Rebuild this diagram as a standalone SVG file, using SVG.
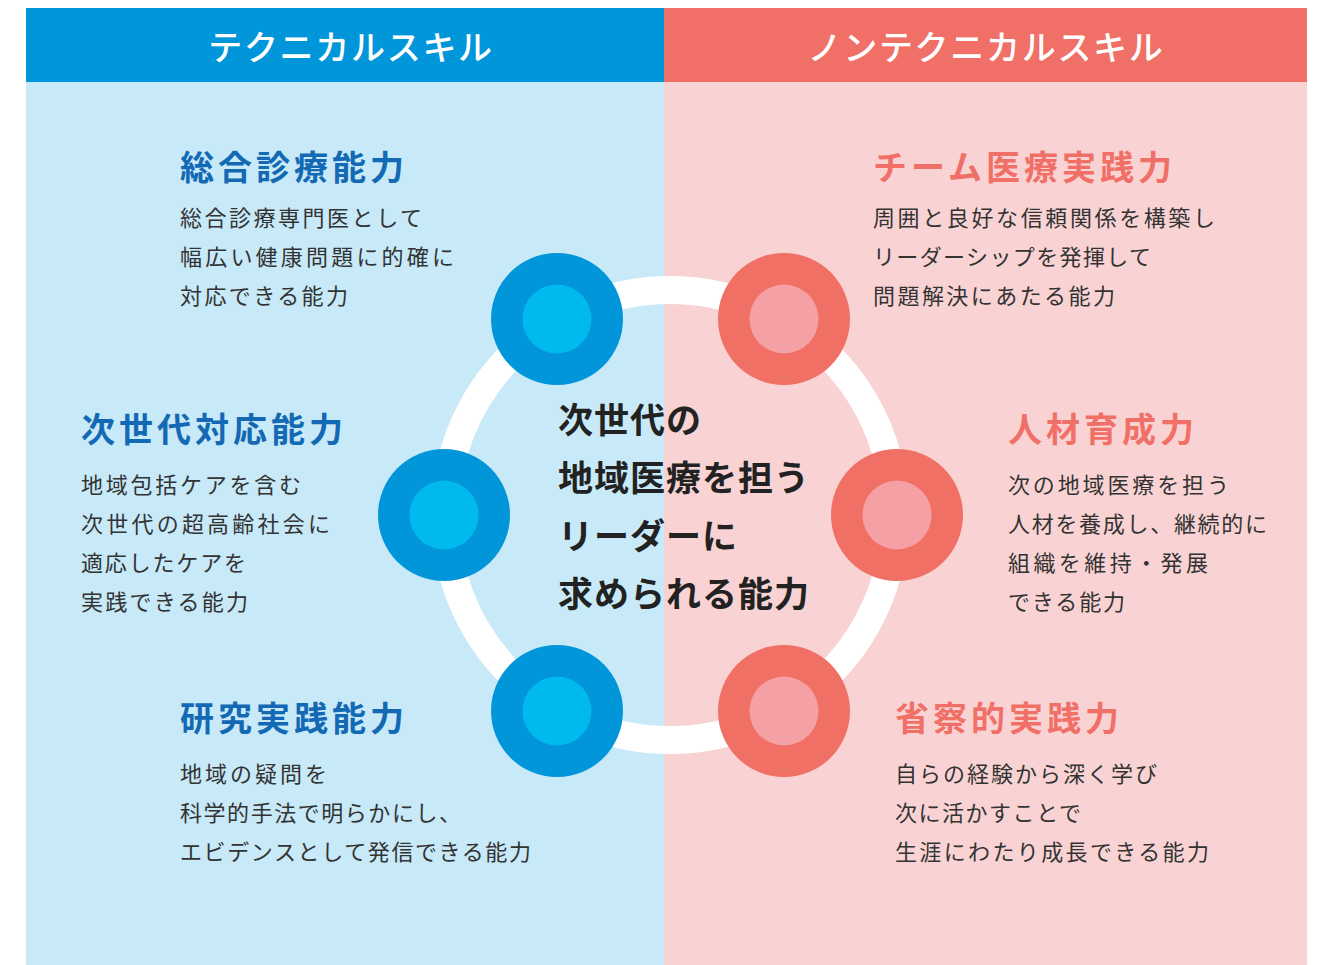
<svg xmlns="http://www.w3.org/2000/svg" width="1321" height="965" viewBox="0 0 1321 965">
<style>
.hd{font-family:"Noto Sans CJK JP","Noto Sans",sans-serif;font-size:34px;font-weight:500;fill:#fff;letter-spacing:1.7px;text-anchor:middle}
.tb{font-family:"Noto Sans CJK JP","Noto Sans",sans-serif;font-size:34px;font-weight:700;fill:#1469B4;letter-spacing:4px}
.tr{font-family:"Noto Sans CJK JP","Noto Sans",sans-serif;font-size:34px;font-weight:700;fill:#F07068;letter-spacing:4px}
.bd{font-family:"Noto Sans CJK JP","Noto Sans",sans-serif;font-size:22px;font-weight:400;fill:#333}
.ct{font-family:"Noto Sans CJK JP","Noto Sans",sans-serif;font-size:35px;font-weight:700;fill:#222;letter-spacing:1px}
.ob{fill:#0096D9}.ib{fill:#00B9EF}.or{fill:#F07066}.ir{fill:#F5A0A4}
</style>
<rect width="1321" height="965" fill="#fff"/>
<g id="panels">
<rect x="26" y="82" width="638" height="883" fill="#C7E9F8"/>
<rect x="664" y="82" width="643" height="883" fill="#F9D3D3"/>
<rect x="26" y="8" width="638" height="74" fill="#0096D9"/>
<rect x="664" y="8" width="643" height="74" fill="#F07068"/>
<text class="hd" x="351" y="60">テクニカルスキル</text>
<text class="hd" x="986" y="60">ノンテクニカルスキル</text>
</g>
<g id="connectors">
<circle cx="670" cy="515" r="225" fill="none" stroke="#fff" stroke-width="28"/>
</g>
<g id="center">
<text class="ct" x="558" y="433">次世代の</text>
<text class="ct" x="558" y="491">地域医療を担う</text>
<text class="ct" x="558" y="549">リーダーに</text>
<text class="ct" x="558" y="607">求められる能力</text>
</g>
<g id="node-sogo">
<circle class="ob" cx="557" cy="319" r="66"/><circle class="ib" cx="557" cy="319" r="34.5"/>
<text class="tb" x="180" y="180">総合診療能力</text>
<text class="bd" x="180" y="226" textLength="242" lengthAdjust="spacing">総合診療専門医として</text>
<text class="bd" x="180" y="265" textLength="274" lengthAdjust="spacing">幅広い健康問題に的確に</text>
<text class="bd" x="180" y="304" textLength="168" lengthAdjust="spacing">対応できる能力</text>
</g>
<g id="node-jisedai">
<circle class="ob" cx="444" cy="515" r="66"/><circle class="ib" cx="444" cy="515" r="34.5"/>
<text class="tb" x="81" y="442">次世代対応能力</text>
<text class="bd" x="81" y="493" textLength="220" lengthAdjust="spacing">地域包括ケアを含む</text>
<text class="bd" x="81" y="532" textLength="249" lengthAdjust="spacing">次世代の超高齢社会に</text>
<text class="bd" x="81" y="571" textLength="165" lengthAdjust="spacing">適応したケアを</text>
<text class="bd" x="81" y="610" textLength="167" lengthAdjust="spacing">実践できる能力</text>
</g>
<g id="node-kenkyu">
<circle class="ob" cx="557" cy="711" r="66"/><circle class="ib" cx="557" cy="711" r="34.5"/>
<text class="tb" x="180" y="731">研究実践能力</text>
<text class="bd" x="180" y="782" textLength="147" lengthAdjust="spacing">地域の疑問を</text>
<text class="bd" x="180" y="821" textLength="281" lengthAdjust="spacing">科学的手法で明らかにし、</text>
<text class="bd" x="180" y="860" textLength="351" lengthAdjust="spacing">エビデンスとして発信できる能力</text>
</g>
<g id="node-team">
<circle class="or" cx="784" cy="319" r="66"/><circle class="ir" cx="784" cy="319" r="34.5"/>
<text class="tr" x="873" y="180">チーム医療実践力</text>
<text class="bd" x="873" y="226" textLength="342" lengthAdjust="spacing">周囲と良好な信頼関係を構築し</text>
<text class="bd" x="873" y="265" textLength="278" lengthAdjust="spacing">リーダーシップを発揮して</text>
<text class="bd" x="873" y="304" textLength="242" lengthAdjust="spacing">問題解決にあたる能力</text>
</g>
<g id="node-jinzai">
<circle class="or" cx="897" cy="515" r="66"/><circle class="ir" cx="897" cy="515" r="34.5"/>
<text class="tr" x="1008" y="442">人材育成力</text>
<text class="bd" x="1008" y="493" textLength="221" lengthAdjust="spacing">次の地域医療を担う</text>
<text class="bd" x="1008" y="532" textLength="259" lengthAdjust="spacing">人材を養成し、継続的に</text>
<text class="bd" x="1008" y="571" textLength="200" lengthAdjust="spacing">組織を維持・発展</text>
<text class="bd" x="1008" y="610" textLength="117" lengthAdjust="spacing">できる能力</text>
</g>
<g id="node-seisatsu">
<circle class="or" cx="784" cy="711" r="66"/><circle class="ir" cx="784" cy="711" r="34.5"/>
<text class="tr" x="895" y="731">省察的実践力</text>
<text class="bd" x="895" y="782" textLength="262" lengthAdjust="spacing">自らの経験から深く学び</text>
<text class="bd" x="895" y="821" textLength="186" lengthAdjust="spacing">次に活かすことで</text>
<text class="bd" x="895" y="860" textLength="314" lengthAdjust="spacing">生涯にわたり成長できる能力</text>
</g>
</svg>
